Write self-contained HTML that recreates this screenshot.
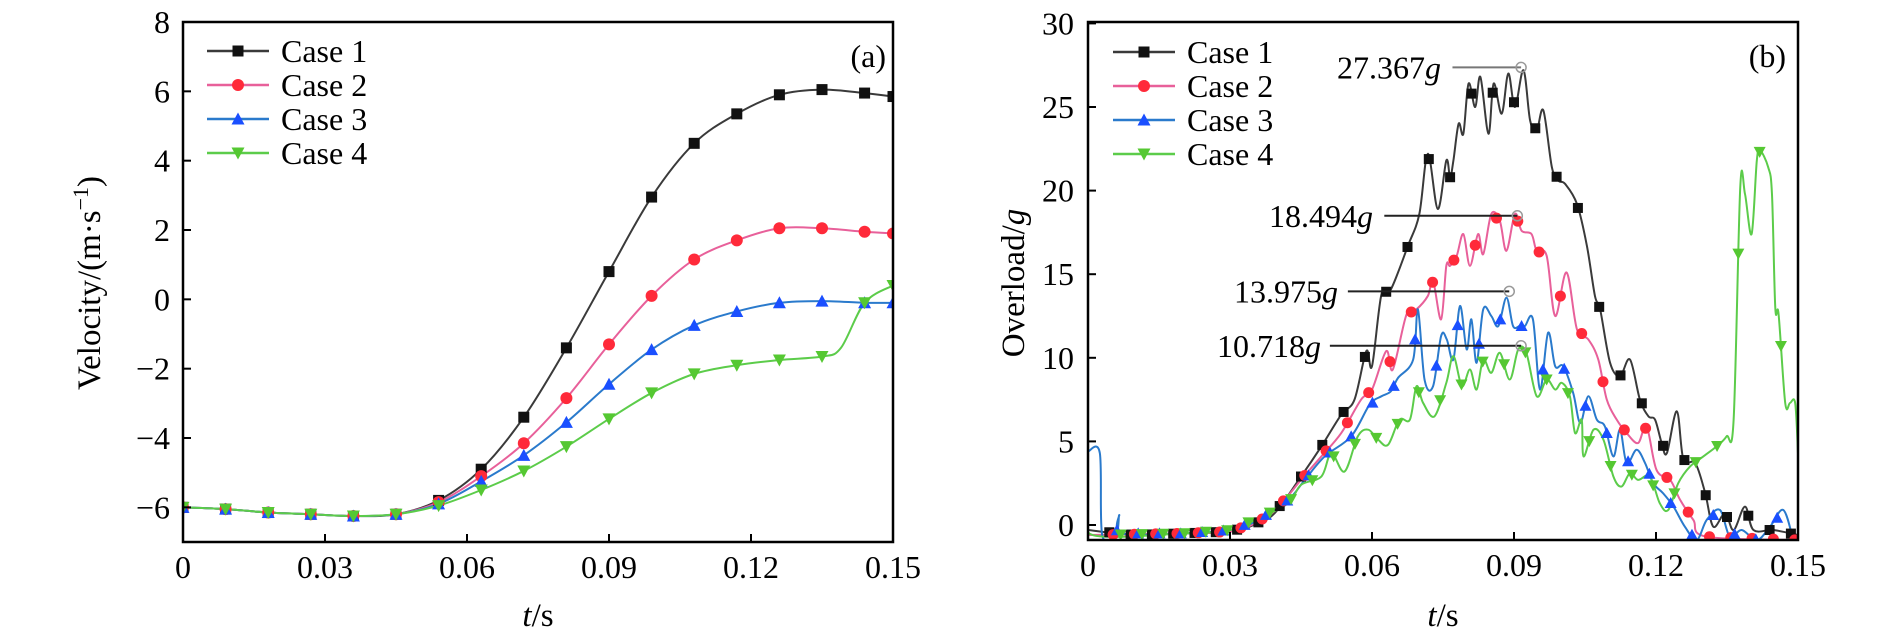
<!DOCTYPE html>
<html><head><meta charset="utf-8"><style>
html,body{margin:0;padding:0;background:#fff;}
svg{display:block;font-family:"Liberation Serif",serif;}
</style></head><body>
<svg id="chart" width="1890" height="638" viewBox="0 0 1890 638" xmlns="http://www.w3.org/2000/svg">
<defs>
<clipPath id="clipA"><rect x="183" y="22" width="710" height="520"/></clipPath>
<clipPath id="clipB"><rect x="1088" y="22" width="710" height="518"/></clipPath>
</defs>
<g id="panelA"></g>
<g id="panelB"></g>
</svg>
<script>
// ---------- Panel (a) data: velocity ----------
const velT = [0,0.009,0.018,0.027,0.036,0.045,0.054,0.063,0.072,0.081,0.09,0.099,0.108,0.117,0.126,0.135,0.144,0.15];
const velCase1 = [-6,-6.05,-6.15,-6.2,-6.25,-6.2,-5.8,-4.9,-3.4,-1.4,0.8,2.95,4.5,5.35,5.9,6.05,5.95,5.85];
const velCase2 = [-6,-6.05,-6.15,-6.2,-6.25,-6.2,-5.85,-5.1,-4.15,-2.85,-1.3,0.1,1.15,1.7,2.05,2.05,1.95,1.9];
const velCase3 = [-6,-6.05,-6.15,-6.2,-6.25,-6.2,-5.9,-5.25,-4.5,-3.55,-2.45,-1.45,-0.75,-0.35,-0.1,-0.05,-0.1,-0.1];
const velT4 = [0,0.009,0.018,0.027,0.036,0.045,0.054,0.063,0.072,0.081,0.09,0.099,0.108,0.117,0.126,0.135,0.139,0.144,0.15];
const velCase4 = [-6,-6.05,-6.15,-6.2,-6.25,-6.2,-5.95,-5.5,-4.95,-4.25,-3.45,-2.7,-2.15,-1.9,-1.75,-1.65,-1.4,-0.1,0.4];
const velXTicks = [0,0.03,0.06,0.09,0.12,0.15];
const velXLabels = ["0","0.03","0.06","0.09","0.12","0.15"];
const velYTicks = [-6,-4,-2,0,2,4,6,8];
const velYLabels = ["\u22126","\u22124","\u22122","0","2","4","6","8"];

// ---------- Panel (b) data: overload ----------
const ovT1 = [0,0.01,0.02,0.03,0.035,0.0394,0.045,0.0493,0.0535,0.0563,0.0588,0.060,0.062,0.064,0.0676,0.070,0.0718,0.0739,0.0757,0.0765,0.0772,0.0783,0.0793,0.0804,0.0818,0.0829,0.0846,0.0857,0.0874,0.0888,0.0902,0.092,0.0934,0.0948,0.0962,0.098,0.0994,0.1008,0.1033,0.1054,0.1071,0.1082,0.1103,0.1124,0.1145,0.1166,0.1184,0.1198,0.1212,0.1223,0.1244,0.1258,0.1283,0.1304,0.1321,0.1346,0.1364,0.1388,0.1406,0.1448,0.15];
const ovV1 = [-0.3,-0.6,-0.5,-0.4,0,0.7,2.9,4.7,6.6,7.5,10.4,9.5,13.8,14.1,16.7,18.6,22.2,18.9,21.8,20.8,21.8,24.0,23.4,26.4,25.0,26.8,23.4,26.4,24.6,27.0,25.0,27.2,24.2,23.6,24.8,21.4,20.6,20.4,19.2,16.7,13.7,12.9,9.7,8.9,9.9,7.5,6.5,6.3,4.9,4.3,6.8,3.9,3.7,1.9,-0.1,0.7,-0.3,1.1,-0.3,-0.3,-0.6];
const ovT2 = [0,0.02,0.03,0.036,0.04,0.045,0.0493,0.0535,0.0577,0.060,0.063,0.0644,0.0673,0.0694,0.0718,0.0729,0.0746,0.0757,0.0765,0.0779,0.0793,0.0807,0.0824,0.0835,0.0852,0.087,0.0884,0.0902,0.0916,0.0937,0.0948,0.0969,0.0987,0.1011,0.1033,0.1057,0.1078,0.1096,0.1117,0.1138,0.1162,0.118,0.1201,0.123,0.1251,0.1279,0.1307,0.15];
const ovV2 = [-0.6,-0.5,-0.4,0.2,1.0,2.7,4.1,5.5,7.5,8.1,10.4,9.3,12.6,12.9,13.7,14.6,12.3,15.5,15.5,16.1,17.4,15.5,17.4,16.2,18.6,18.2,16.4,18.6,17.6,17.4,16.4,16.1,12.5,15.1,11.7,11.1,9.9,7.5,6.3,5.5,4.9,5.9,3.3,2.7,1.5,0.3,-0.7,-0.9];
const ovT3 = [0,0.0025,0.003,0.006,0.0066,0.0072,0.02,0.03,0.036,0.0423,0.0458,0.05,0.0556,0.0595,0.062,0.064,0.0655,0.0687,0.0697,0.0711,0.0729,0.0746,0.0758,0.0772,0.0786,0.08,0.081,0.0821,0.0835,0.0852,0.0867,0.0884,0.0898,0.0912,0.0923,0.094,0.0955,0.0972,0.0987,0.1004,0.1025,0.104,0.1057,0.1075,0.1092,0.111,0.1124,0.1138,0.1159,0.1177,0.1194,0.1215,0.1237,0.1261,0.1286,0.1307,0.1335,0.1356,0.1381,0.1413,0.1441,0.1469,0.149];
const ovV3 = [4.4,4.3,-0.6,-0.5,0.6,-0.5,-0.5,-0.3,0.3,1.5,2.7,4.1,5.3,7.2,7.7,8.0,8.8,9.9,12.9,8.7,8.3,11.3,11.1,9.9,13.1,10.5,12.3,9.7,12.9,12.5,11.9,13.6,11.9,11.9,11.9,12.3,8.1,11.5,9.5,9.5,7.9,6.1,7.7,6.3,5.9,4.1,5.7,3.7,4.5,3.7,2.5,1.9,1.1,-0.1,-0.9,0.3,0.9,-0.7,-0.3,-0.9,-0.1,0.9,-0.9];
const ovT4 = [0,0.001,0.02,0.03,0.036,0.0423,0.045,0.0493,0.0514,0.0542,0.057,0.0592,0.0613,0.0634,0.0658,0.068,0.0694,0.0708,0.0732,0.0757,0.0772,0.079,0.0807,0.0821,0.0835,0.0852,0.087,0.0891,0.0909,0.0926,0.0948,0.0969,0.0987,0.1001,0.1018,0.1029,0.1043,0.1047,0.1068,0.1089,0.111,0.1127,0.1145,0.1162,0.1187,0.1208,0.1226,0.1247,0.1272,0.13,0.1328,0.1349,0.1364,0.1378,0.1388,0.1402,0.1413,0.142,0.1437,0.1445,0.1452,0.1459,0.1473,0.1483,0.1494,0.15];
const ovV4 = [1.2,-0.6,-0.5,-0.3,0.4,1.3,2.4,2.9,4.3,3.2,5.3,5.7,5.1,4.8,6.3,6.3,8.3,7.3,6.5,8.5,10.1,8.3,9.3,8.1,9.9,9.1,10.3,8.7,10.5,10.3,7.7,8.7,8.1,8.5,7.7,5.5,6.3,4.1,5.7,5.1,2.9,2.3,3.1,2.7,2.9,1.3,0.9,2.5,3.5,4.1,4.7,5.3,6.3,20.2,19.8,17.4,21.8,22.4,21.4,19.8,13.0,12.6,7.3,7.3,7.3,4.3];
const peakValues = [27.367,18.494,13.975,10.718];
const peakLabels = ["27.367","18.494","13.975","10.718"];
const peakStartT = [0.0770,0.0626,0.0549,0.0511];
const peakEndT = [0.0915,0.0907,0.0890,0.0915];
const peakLabelEndX = [1441,1373,1338,1321];
const ovXTicks = [0,0.03,0.06,0.09,0.12,0.15];
const ovXLabels = ["0","0.03","0.06","0.09","0.12","0.15"];
const ovYTicks = [0,5,10,15,20,25,30];
const ovYLabels = ["0","5","10","15","20","25","30"];
const caseNames = ["Case 1","Case 2","Case 3","Case 4"];

const NS = "http://www.w3.org/2000/svg";
function mk(tag, attrs, parent){ const e=document.createElementNS(NS,tag); for(const k in attrs) e.setAttribute(k,attrs[k]); if(parent) parent.appendChild(e); return e; }

// axes
const xA = t => 183 + t/0.15*710;
const yA = v => 22 + (8 - v)*34.667;
const xB = t => 1088 + t/0.15*710;
const yB = v => 525 - v*16.72;

const lineCols = ["#3a3a3a","#e8609a","#2a7acc","#5ccc4a"];
const markCols = ["#111111","#ff2a3a","#1a4fff","#55c832"];

function marker(g, k, x, y, s){
  let m;
  if(k===0) m = mk("rect",{x:x-s,y:y-s,width:2*s,height:2*s,fill:markCols[0]},g);
  else if(k===1) m = mk("circle",{cx:x,cy:y,r:s+0.5,fill:markCols[1]},g);
  else if(k===2) m = mk("polygon",{points:`${x},${y-s-1} ${x-s-1},${y+s} ${x+s+1},${y+s}`,fill:markCols[2]},g);
  else m = mk("polygon",{points:`${x-s-1},${y-s} ${x+s+1},${y-s} ${x},${y+s+1}`,fill:markCols[3]},g);
  return m;
}

function smoothPath(pts){
  let d = `M${pts[0][0]},${pts[0][1]}`;
  for(let i=0;i<pts.length-1;i++){
    const p0=pts[Math.max(0,i-1)], p1=pts[i], p2=pts[i+1], p3=pts[Math.min(pts.length-1,i+2)];
    const c1x=p1[0]+(p2[0]-p0[0])/6, c1y=p1[1]+(p2[1]-p0[1])/6;
    const c2x=p2[0]-(p3[0]-p1[0])/6, c2y=p2[1]-(p3[1]-p1[1])/6;
    d += ` C${c1x},${c1y} ${c2x},${c2y} ${p2[0]},${p2[1]}`;
  }
  return d;
}

function interp(ts, vs, t){
  if(t<=ts[0]) return vs[0];
  for(let i=0;i<ts.length-1;i++){ if(t<=ts[i+1]){ const f=(t-ts[i])/(ts[i+1]-ts[i]); return vs[i]+f*(vs[i+1]-vs[i]); } }
  return vs[vs.length-1];
}

function frame(g, x0, x1, y0, y1, xT, xL, xf, yT, yL, yf, labelEnd){
  const fr = mk("rect",{x:x0,y:y0,width:x1-x0,height:y1-y0,fill:"none",stroke:"#000","stroke-width":2.5},g);
  
  
  xT.forEach((t,i)=>{
    const x=xf(t);
    const tk = mk("line",{x1:x,y1:y1,x2:x,y2:y1-8,stroke:"#000","stroke-width":2},g);
    
    
    const lb = mk("text",{x:x,y:y1+36,"text-anchor":"middle","font-size":32},g);
    lb.textContent = xL[i];
    
    
  });
  yT.forEach((v,i)=>{
    const y=yf(v);
    const tk = mk("line",{x1:x0,y1:y,x2:x0+8,y2:y,stroke:"#000","stroke-width":2},g);
    
    
    const lb = mk("text",{x:labelEnd,y:y+11,"text-anchor":"end","font-size":32},g);
    lb.textContent = yL[i];
    
    
  });
}

function legend(g, lx, ly){
  caseNames.forEach((n,k)=>{
    const y = ly + k*34;
    const gg = mk("g",{},g);
    
    
    mk("line",{x1:lx,y1:y,x2:lx+62,y2:y,stroke:lineCols[k],"stroke-width":2.5},gg);
    marker(gg,k,lx+31,y,5.5);
    const t = mk("text",{x:lx+74,y:y+11,"font-size":32},gg);
    t.textContent = n;
  });
}

// ---------- Panel A ----------
const gA = document.getElementById("panelA");
const series = [[velT,velCase1],[velT,velCase2],[velT,velCase3],[velT4,velCase4]];
const plotA = mk("g",{"clip-path":"url(#clipA)"},gA);
series.forEach((s,k)=>{
  const pts = s[0].map((t,i)=>[xA(t),yA(s[1][i])]);
  const p = mk("path",{d:smoothPath(pts),fill:"none",stroke:lineCols[k],"stroke-width":2},plotA);
  
  
});
series.forEach((s,k)=>{
  s[0].forEach((t,i)=>{
    if(k===3 && (i===16)) return;
    const m = marker(plotA,k,xA(t),yA(s[1][i]),5.5);
    
    
  });
});
frame(gA,183,893,22,542,velXTicks,velXLabels,xA,velYTicks,velYLabels,yA,170);
legend(gA,207,51);
const la = mk("text",{x:886,y:67,"text-anchor":"end","font-size":32},gA);
la.textContent = "(a)";


const yta = mk("text",{transform:"translate(100,283) rotate(-90)","text-anchor":"middle","font-size":33},gA);
yta.innerHTML = 'Velocity/(m·s<tspan dy="-12" font-size="22">\u22121</tspan><tspan dy="12">)</tspan>';


const xta = mk("text",{x:538,y:626,"text-anchor":"middle","font-size":33},gA);
xta.innerHTML = '<tspan font-style="italic">t</tspan>/s';



// ---------- Panel B ----------
const gB = document.getElementById("panelB");
const seriesB = [[ovT1,ovV1],[ovT2,ovV2],[ovT3,ovV3],[ovT4,ovV4]];
const plotB = mk("g",{"clip-path":"url(#clipB)"},gB);
seriesB.forEach((s,k)=>{
  const pts = s[0].map((t,i)=>[xB(t),yB(s[1][i])]);
  const p = mk("path",{d:smoothPath(pts),fill:"none",stroke:lineCols[k],"stroke-width":2},plotB);
  
  
});
seriesB.forEach((s,k)=>{
  for(let t=0.0045+k*0.0008; t<0.15; t+=0.0045){
    const m = marker(plotB,k,xB(t),yB(interp(s[0],s[1],t)),5);
    
    
  }
});
peakValues.forEach((v,i)=>{
  const y = yB(v);
  const ln = mk("line",{x1:xB(peakStartT[i]),y1:y,x2:xB(peakEndT[i]),y2:y,stroke:i===0?"#777":"#222","stroke-width":2},gB);
  
  
  const c = mk("circle",{cx:xB(peakEndT[i]),cy:y,r:5,fill:"none",stroke:"#999","stroke-width":1.5},gB);
  
  
  const t = mk("text",{x:peakLabelEndX[i],y:y+11,"text-anchor":"end","font-size":32},gB);
  t.innerHTML = peakLabels[i] + '<tspan font-style="italic">g</tspan>';
  
  
});
frame(gB,1088,1798,22,540,ovXTicks,ovXLabels,xB,ovYTicks,ovYLabels,yB,1074);
legend(gB,1113,52);
const lb2 = mk("text",{x:1786,y:67,"text-anchor":"end","font-size":32},gB);
lb2.textContent = "(b)";


const ytb = mk("text",{transform:"translate(1024,283) rotate(-90)","text-anchor":"middle","font-size":33},gB);
ytb.innerHTML = 'Overload/<tspan font-style="italic">g</tspan>';


const xtb = mk("text",{x:1443,y:626,"text-anchor":"middle","font-size":33},gB);
xtb.innerHTML = '<tspan font-style="italic">t</tspan>/s';


</script>
</body></html>
